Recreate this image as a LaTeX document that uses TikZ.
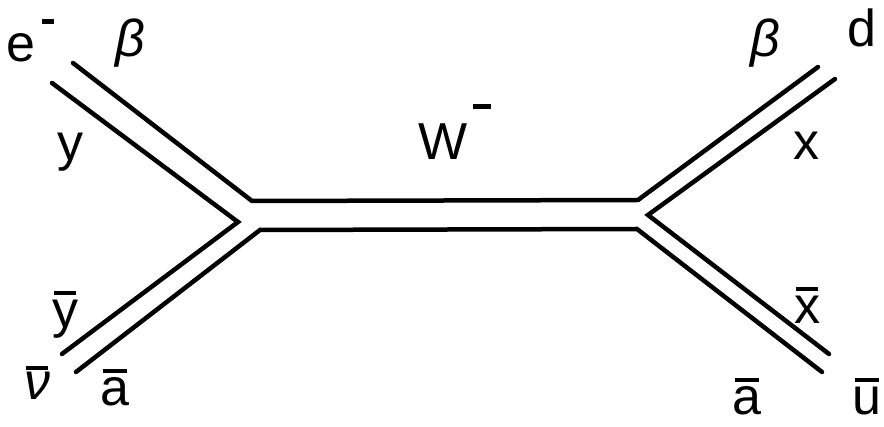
\documentclass[tikz,border=0pt]{standalone}
\usepackage{fontspec}
\setmainfont{Liberation Sans}
\newcommand\olbar[2][0.64em]{\leavevmode\setbox0\hbox{#2}\rlap{\hspace{0.04em}\raisebox{#1}{\rule{\dimexpr\wd0-0.08em\relax}{0.08em}}}\box0}
\newcommand\supmin[3]{\hspace{#1}\raisebox{#2}{\rule{#3}{4.5pt}}}
\begin{document}
\begin{tikzpicture}[x=1pt,y=-1pt,
  fline/.style={line width=4.5pt, line cap=round, line join=miter},
  lbl/.style={font=\fontsize{52}{60}\selectfont, inner sep=0pt}]
\useasboundingbox (0,0) rectangle (884,427);
% coordinates
\coordinate (a1) at (73,63);  \coordinate (a2) at (252,201);
\coordinate (a3) at (638,200); \coordinate (a4) at (818,67);
\coordinate (b1) at (52,83);  \coordinate (b2) at (238,222); \coordinate (b3) at (62,354);
\coordinate (c1) at (76,372); \coordinate (c2) at (260,230);
\coordinate (c3) at (637,229); \coordinate (c4) at (822,372);
\coordinate (d1) at (835,79); \coordinate (d2) at (648,215); \coordinate (d3) at (829,354);
% double lines
\draw[fline] (a1) -- (a2) -- (a3) -- (a4);
\draw[fline] (b1) -- (b2) -- (b3);
\draw[fline] (c1) -- (c2) -- (c3) -- (c4);
\draw[fline] (d1) -- (d2) -- (d3);
% labels
\node[lbl, anchor=base west] (eminus) at (6,62) {e\supmin{7pt}{38pt}{12pt}};
\node[lbl, anchor=base] (betaL) at (130,57) {\textit{β}};
\node[lbl, anchor=base] (yL) at (70,161) {y};
\node[lbl, anchor=base] (ybar) at (65,328) {\olbar{y}};
\node[lbl, anchor=base] (nubar) at (37,400) {\olbar[0.58em]{\textit{ν}}};
\node[lbl, anchor=base] (abarL) at (115,406) {\olbar{a}};
\node[lbl, anchor=base west] (wminus) at (418,160) {W\supmin{6pt}{51pt}{18pt}};
\node[lbl, anchor=base] (betaR) at (765,57) {\textit{β}};
\node[lbl, anchor=base] (dR) at (862,47) {d};
\node[lbl, anchor=base] (xR) at (806,160) {x};
\node[lbl, anchor=base] (xbar) at (807,324) {\olbar{x}};
\node[lbl, anchor=base] (abarR) at (747,415) {\olbar{a}};
\node[lbl, anchor=base] (ubar) at (867,415) {\olbar{u}};
\end{tikzpicture}
\end{document}
